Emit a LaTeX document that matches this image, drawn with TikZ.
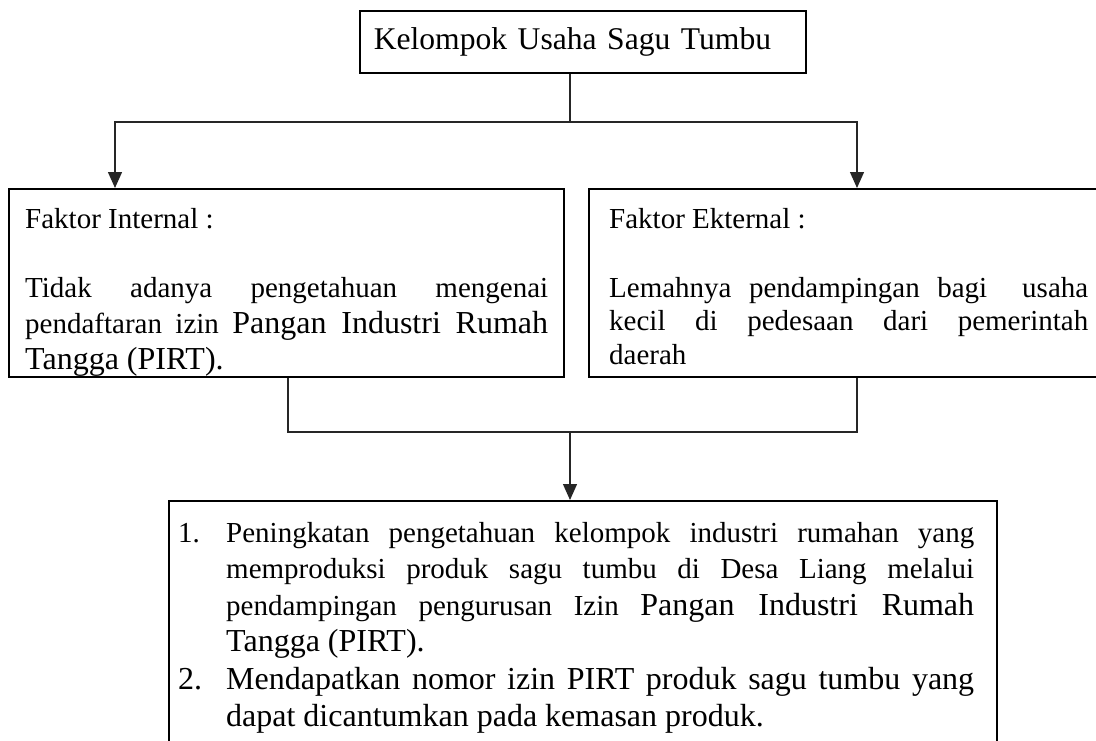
\documentclass[tikz,border=0pt]{standalone}
\usepackage{fontspec}
\setmainfont{Liberation Serif}
\usetikzlibrary{arrows.meta}

\begin{document}
\begin{tikzpicture}[x=1pt, y=-1pt,
        kotak/.style={draw=black, line width=1.6pt, inner sep=0pt},
        teks/.style={inner sep=0pt, align=justify, anchor=base west},
        garis/.style={draw=black!85, line width=1.3pt},
        panah/.style={garis, -{Triangle[length=16pt, width=14pt]}}]
        \def\kecil{\fontsize{29pt}{35pt}\selectfont}
        \def\besar{\fontsize{32pt}{37pt}\selectfont}
        \useasboundingbox (0,0) rectangle (1096,740);
        % kotak-kotak
        \node[kotak, anchor=north west, text width=418pt, inner xsep=14pt, minimum height=62pt, align=left, font=\fontsize{31.6pt}{37pt}\selectfont] (usaha) at (359,10) {Kelompok Usaha Sagu Tumbu};
        \node[kotak, anchor=north west, minimum width=555pt, minimum height=188pt] (internal) at (8,188) {};
        \node[kotak, anchor=north west, minimum width=517pt, minimum height=188pt] (eksternal) at (588,188) {};
        \node[kotak, anchor=north west, minimum width=828pt, minimum height=270pt] (hasil) at (168,500) {};
        % isi kotak
        \begin{scope}
            \clip (internal.north west) rectangle (internal.south east);
            \node[teks, text width=523pt, font=\kecil] (internalTeks) at (25,228) {Faktor Internal :\par\vspace{33pt}\fontsize{29pt}{36pt}\selectfont Tidak adanya pengetahuan mengenai\linebreak pendaftaran izin {\besar Pangan Industri Rumah\linebreak Tangga (PIRT).}\par};
        \end{scope}
        \node[teks, text width=479pt, font=\kecil] (eksternalTeks) at (609,228) {\fontsize{29pt}{33.5pt}\selectfont Faktor Ekternal :\par\vspace{35.5pt}Lemahnya pendampingan bagi\ \ usaha\linebreak kecil di pedesaan dari pemerintah\linebreak daerah\par};
        \node[teks, text width=796pt, font=\kecil] (hasilTeks) at (178,542) {\fontsize{29pt}{36.5pt}\selectfont
            \hangindent=48pt \hangafter=1
            \makebox[48pt][l]{1.}Peningkatan pengetahuan kelompok industri rumahan yang\linebreak memproduksi produk sagu tumbu di Desa Liang melalui\linebreak pendampingan pengurusan Izin {\besar Pangan Industri Rumah\linebreak Tangga (PIRT).}\par
            \fontsize{32pt}{37.5pt}\selectfont
            \hangindent=48pt \hangafter=1
            \makebox[48pt][l]{2.}Mendapatkan nomor izin PIRT produk sagu tumbu yang\linebreak dapat dicantumkan pada kemasan produk.\par};
        % garis penghubung
        \coordinate (cabang) at (570,122);
        \coordinate (masukKiri) at (115,188);
        \coordinate (masukKanan) at (857,188);
        \coordinate (gabung) at (570,432);
        \coordinate (keluarKiri) at (288,432);
        \coordinate (keluarKanan) at (857,432);
        \draw[garis] (cabang |- usaha.south) -- (cabang);
        \draw[panah] (cabang) -| (masukKiri);
        \draw[panah] (cabang) -| (masukKanan);
        \draw[garis] (keluarKiri |- internal.south) -- (keluarKiri) -- (keluarKanan) -- (keluarKanan |- eksternal.south);
        \draw[panah] (gabung) -- (gabung |- hasil.north);
    \end{tikzpicture}
\end{document}
